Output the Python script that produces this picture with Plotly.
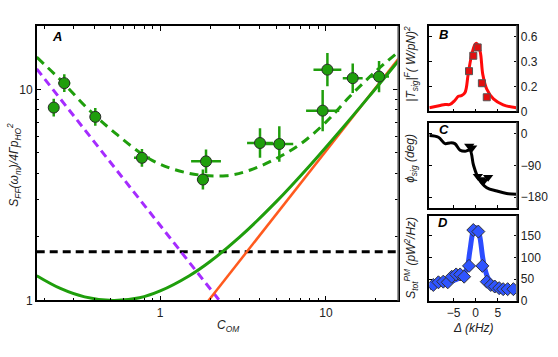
import math
import plotly.graph_objects as go

# ---- panel A: measured force noise vs cooperativity ----
c_om = [0.228, 0.264, 0.406, 0.776, 1.89, 1.81, 4.0, 5.23, 9.55, 10.2, 14.5, 20.9]
s_ff = [8.2, 10.7, 7.41, 4.74, 4.56, 3.74, 5.57, 5.51, 7.93, 12.4, 11.3, 11.5]
c_err_dec = [0.03, 0.036, 0.02, 0.048, 0.09, 0.036, 0.078, 0.084, 0.10, 0.084, 0.06, 0.06]
s_err_dec = [0.042, 0.042, 0.042, 0.042, 0.056, 0.047, 0.07, 0.084, 0.098, 0.079, 0.07, 0.074]

# theory curves
total_c = [0.18, 0.25, 0.36, 0.55, 0.9, 1.5, 2.5, 3.5, 5.0, 7.0, 10.0, 14.0, 20.0, 27.2]
total_s = [14.2, 11.1, 8.2, 6.1, 4.6, 4.0, 3.9, 4.15, 4.7, 5.5, 7.0, 9.3, 12.2, 15.0]
solid_c = [0.18, 0.25, 0.35, 0.52, 0.75, 1.0, 1.5, 2.0, 3.0, 5.0, 8.0, 12.0, 18.0, 28.0]
solid_s = [1.31, 1.14, 1.04, 1.00, 1.03, 1.11, 1.31, 1.53, 1.99, 2.93, 4.36, 6.28, 9.16, 13.97]
shot_c = [0.18, 2.3]
shot_s = [12.5, 0.99]
rp_c = [1.9, 28.0]
rp_s = [0.97, 14.3]
sql_c = [0.18, 27.2]
sql_s = [1.7, 1.7]

# ---- panel B: transfer function magnitude ----
b_line_x = [-10.45, -8.0, -6.9, -5.8, -4.7, -3.9, -3.2, -2.4, -1.7, -0.9, -0.15, 0.2, 1.0, 1.6, 2.5, 4.0, 6.2, 9.2]
b_line_y = [0.028, 0.047, 0.055, 0.055, 0.087, 0.121, 0.126, 0.152, 0.297, 0.455, 0.539, 0.547, 0.482, 0.297, 0.178, 0.10, 0.052, 0.028]
b_pts_x = [-1.5, -0.54, 0.45, 1.4, 2.5]
b_pts_y = [0.323, 0.447, 0.514, 0.226, 0.113]

# ---- panel C: phase ----
c_line_x = [-10.45, -8.4, -6.9, -5.8, -4.7, -3.5, -2.4, -1.3, -0.5, 0.6, 2.5, 4.8, 7.0, 9.2]
c_line_y = [-5, -10, -28, -26, -28, -47, -50, -47, -89, -126, -154, -163, -170, -172]
c_pts_x = [-1.45, -0.8, 0.5, 1.2, 1.9, 2.8]
c_pts_y = [-35, -40, -121, -130, -133, -124]

# ---- panel D: total PM spectrum ----
d_line_x = [-10.45, -8.8, -6.5, -4.7, -3.2, -2.0, -1.3, -0.54, 0.07, 0.8, 1.7, 2.8, 4.3, 7.0, 9.2]
d_line_y = [29, 36.6, 40, 48, 55, 74, 116, 161, 169, 154, 93, 52, 36.6, 29, 26.6]
d_pts_x = [-9.55, -8.4, -7.3, -6.3, -5.4, -4.4, -3.5, -2.6, -1.5, -0.54, 0.6, 1.5, 2.5, 3.4, 4.3, 5.3, 6.2, 7.2, 8.5]
d_pts_y = [36.4, 42.5, 44, 42.5, 55.5, 60.7, 60.7, 55.5, 80.5, 163.6, 160, 80.5, 44, 36.4, 32.7, 29, 26.6, 26.6, 26.6]

GREEN = "#1f9e0c"
PURPLE = "#a52cff"
ORANGE = "#ff5a1e"
FONT = "Liberation Sans"

fig = go.Figure()

# panel A curves
fig.add_trace(go.Scatter(x=sql_c, y=sql_s, mode="lines", xaxis="x", yaxis="y",
                         line=dict(color="black", width=3, dash="8px,5px")))
fig.add_trace(go.Scatter(x=shot_c, y=shot_s, mode="lines", xaxis="x", yaxis="y",
                         line=dict(color=PURPLE, width=3, dash="8px,5px")))
fig.add_trace(go.Scatter(x=rp_c, y=rp_s, mode="lines", xaxis="x", yaxis="y",
                         line=dict(color=ORANGE, width=2.5)))
fig.add_trace(go.Scatter(x=solid_c, y=solid_s, mode="lines", xaxis="x", yaxis="y",
                         line=dict(color=GREEN, width=3, shape="spline")))
fig.add_trace(go.Scatter(x=total_c, y=total_s, mode="lines", xaxis="x", yaxis="y",
                         line=dict(color=GREEN, width=3, dash="9px,6px", shape="spline")))

# measured points with error bars
fig.add_trace(go.Scatter(
    x=c_om, y=s_ff, mode="markers", xaxis="x", yaxis="y",
    marker=dict(size=11, color=GREEN, line=dict(color="#2a2a2a", width=1)),
    error_x=dict(type="data", array=[c * (10 ** d - 1) for c, d in zip(c_om, c_err_dec)],
                 arrayminus=[c * (1 - 10 ** -d) for c, d in zip(c_om, c_err_dec)],
                 color=GREEN, thickness=2.5, width=0),
    error_y=dict(type="data", array=[s * (10 ** d - 1) for s, d in zip(s_ff, s_err_dec)],
                 arrayminus=[s * (1 - 10 ** -d) for s, d in zip(s_ff, s_err_dec)],
                 color=GREEN, thickness=2.5, width=0),
))

# panel B
fig.add_trace(go.Scatter(x=b_line_x, y=b_line_y, mode="lines", xaxis="x2", yaxis="y2",
                         line=dict(color="#ff0a0a", width=3, shape="spline")))
fig.add_trace(go.Scatter(x=b_pts_x, y=b_pts_y, mode="markers", xaxis="x2", yaxis="y2",
                         marker=dict(symbol="square", size=7, color="#e01010",
                                     line=dict(color="#555", width=1))))
# panel C
fig.add_trace(go.Scatter(x=c_line_x, y=c_line_y, mode="lines", xaxis="x3", yaxis="y3",
                         line=dict(color="black", width=3, shape="spline")))
fig.add_trace(go.Scatter(x=c_pts_x, y=c_pts_y, mode="markers", xaxis="x3", yaxis="y3",
                         marker=dict(symbol="triangle-down", size=9, color="black")))
# panel D
fig.add_trace(go.Scatter(x=d_line_x, y=d_line_y, mode="lines", xaxis="x4", yaxis="y4",
                         line=dict(color="#2b4cff", width=5, shape="spline")))
fig.add_trace(go.Scatter(x=d_pts_x, y=d_pts_y, mode="markers", xaxis="x4", yaxis="y4",
                         marker=dict(symbol="diamond", size=10, color="#2f55ff",
                                     line=dict(color="#333", width=1))))

axis_common = dict(showgrid=False, zeroline=False, showline=True, linecolor="black",
                   linewidth=1.5, ticks="inside", tickcolor="black",
                   tickfont=dict(family=FONT, size=12, color="#222"))

minor_x = [0.2, 0.3, 0.4, 0.5, 0.6, 0.7, 0.8, 0.9, 2, 3, 4, 5, 6, 7, 8, 9, 20]
minor_y = [2, 3, 4, 5, 6, 7, 8, 9]

fig.update_layout(
    width=558, height=357,
    margin=dict(l=0, r=0, t=0, b=0),
    paper_bgcolor="white", plot_bgcolor="white",
    showlegend=False,
    xaxis=dict(axis_common, type="log", domain=[0.0658, 0.7133], anchor="y",
               range=[math.log10(0.18), math.log10(27.2)],
               tickvals=[1, 10], ticktext=["1", "10"], ticklen=5, mirror="allticks",
               minor=dict(tickvals=minor_x, ticks="inside", ticklen=3, tickcolor="black")),
    yaxis=dict(axis_common, type="log", domain=[0.1415, 0.925], anchor="x",
               range=[0, 1.299],
               tickvals=[1, 10], ticktext=["1", "10"], ticklen=5, mirror="allticks",
               minor=dict(tickvals=minor_y, ticks="inside", ticklen=3, tickcolor="black")),
    xaxis2=dict(axis_common, domain=[0.7694, 0.926], anchor="y2", range=[-10.45, 9.25],
                tickvals=[-5, 0, 5], showticklabels=False, ticklen=3, mirror=True),
    yaxis2=dict(axis_common, domain=[0.682, 0.927], anchor="x2", side="right", range=[0, 0.69],
                tickvals=[0, 0.2, 0.4, 0.6], ticktext=["0", "0.2", "0.3", "0.6"],
                ticklen=3, mirror="ticks"),
    xaxis3=dict(axis_common, domain=[0.7694, 0.926], anchor="y3", range=[-10.45, 9.25],
                tickvals=[-5, 0, 5], showticklabels=False, ticklen=3, mirror=True),
    yaxis3=dict(axis_common, domain=[0.407, 0.650], anchor="x3", side="right", range=[-210, 32],
                tickvals=[0, -90, -180], ticklen=3, mirror="ticks"),
    xaxis4=dict(axis_common, domain=[0.7694, 0.926], anchor="y4", range=[-10.45, 9.25],
                tickvals=[-5, 0, 5], ticklen=3, mirror=True),
    yaxis4=dict(axis_common, domain=[0.141, 0.384], anchor="x4", side="right", range=[0, 197],
                tickvals=[0, 50, 100, 150], ticklen=3, mirror="ticks"),
)

# gray right-hand frame edges
for xr, yr in [("x", "y"), ("x2", "y2"), ("x3", "y3"), ("x4", "y4")]:
    fig.add_shape(type="line", xref=xr + " domain", yref=yr + " domain",
                  x0=1, x1=1, y0=0, y1=1, line=dict(color="#777", width=1.5))

title_font = dict(family=FONT, size=12, color="#222")
letter_font = dict(family=FONT, size=13, color="black")
W, H = 558, 357


def px(x, y):
    return x / W, 1 - y / H


annos = [
    ("<i>S<sub>FF</sub>(ω<sub>m</sub>)/4Γp<sub>HO</sub><sup>2</sup></i>", 14, 168, -90, title_font),
    ("<i>C<sub>OM</sub></i>", 228, 333, 0, title_font),
    ("<i>|T<sub>sig</sub>|<sup>F</sup>( W/pN)<sup>2</sup></i>", 411, 65, -90, title_font),
    ("<i>ϕ<sub>sig</sub> (deg)</i>", 411, 162, -90, title_font),
    ("<i>S<sub>tot</sub><sup>PM</sup> (pW<sup>2</sup>/Hz)</i>", 411, 263, -90, title_font),
    ("<i>Δ (kHz)</i>", 473, 335, 0, title_font),
    ("<b><i>A</i></b>", 57, 37.5, 0, letter_font),
    ("<b><i>B</i></b>", 443, 35, 0, letter_font),
    ("<b><i>C</i></b>", 444, 132, 0, letter_font),
    ("<b><i>D</i></b>", 443, 227, 0, letter_font),
]
for text, x, y, ang, f in annos:
    ax, ay = px(x, y)
    fig.add_annotation(text=text, x=ax, y=ay, xref="paper", yref="paper",
                       showarrow=False, textangle=ang, font=f,
                       xanchor="center", yanchor="middle")

# drop the browser's default page margin so the figure sits at the window origin
fig.write_html("out.html", config={"displayModeBar": False},
               post_script="document.body.style.margin='0';")
